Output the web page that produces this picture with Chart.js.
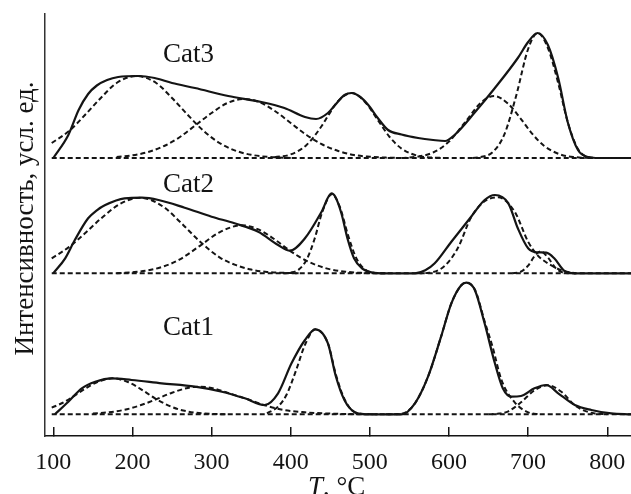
<!DOCTYPE html>
<html><head><meta charset="utf-8">
<script src="https://cdn.jsdelivr.net/npm/chart.js@4.4.1/dist/chart.umd.min.js"></script>
<style>html,body{margin:0;padding:0;background:#fff;}</style>
</head><body>
<canvas id="c" width="631" height="494"></canvas>
<script>
// ---- data (temperature °C, intensity above each curve's own baseline, arb. units) ----
const X_TICKS = [100, 200, 300, 400, 500, 600, 700, 800];
const SERIES_NAMES = ['Cat1', 'Cat2', 'Cat3'];
const BASELINE_OFFSETS = [21.7, 162.7, 278];   // vertical shift of each stacked profile
const BASELINE_RANGE = [98, 830];

const CAT3_TOTAL = [[100,0],[119,23],[132,48],[144,64],[155,72.5],[168,78],[182,81],[207,82],[228,80],[250,75],[279,70],[321,62],[363,56],[392,50],[418,41],[432,39],[447,45],[456,53],[468,63],[477,65],[488,61],[498,53],[510,40],[523,28],[540,23.5],[561,20],[580,18],[595,17],[607,23],[633,46],[658,70],[687,100],[700,116],[712,125],[725,113],[738,80],[750,36],[763,8],[776,1],[790,0],[830,0]];
const CAT3_P1 = [[98,15],[120,27],[140,43],[160,60],[180,75],[205,82],[230,75],[250,60],[270,43],[290,27],[310,15],[330,7.4],[350,3.2],[370,1.2],[400,0]];
const CAT3_P2 = [[180,1],[200,2.7],[220,6],[240,12],[260,21],[280,33],[300,45],[320,55],[342,59],[360,56],[380,47],[400,35],[420,23],[440,13.5],[460,7],[480,3],[500,1.3],[520,0.4],[540,0]];
const CAT3_P3 = [[380,0.7],[400,3.6],[420,13],[440,33],[447,42],[460,57],[477,65],[495,55],[510,38],[525,21],[540,9.4],[560,2.3],[580,0.4],[600,0]];
const CAT3_P4 = [[540,0],[560,1.3],[580,5.5],[600,16.4],[620,35.4],[640,55],[657,62],[675,54],[690,40],[705,24.4],[720,12.3],[740,3.7],[760,0.8],[780,0]];
const CAT3_P5 = [[630,0],[640,0.9],[655,5.8],[670,23.6],[685,62.6],[700,109],[712,125],[725,110],[738,75],[750,36],[763,9],[776,1],[790,0]];

const CAT2_TOTAL = [[100,0],[115,15],[127,33],[144,55],[155,63],[165,68],[190,75],[212,75.6],[233,73.3],[266,65.6],[300,56.6],[329,50],[359,41.6],[384,28.3],[399,22.6],[418,35],[439,61.6],[451.5,80],[456,77],[464,60],[472,34],[480,15],[490,5],[502,1],[520,0],[557,0],[570,3],[582,10],[603,31.6],[628,56.6],[645,73.3],[658,78.3],[675,70],[687,45],[700,25],[711,21],[723,20.6],[733,15],[746,2.3],[759,0],[830,0]];
const CAT2_P1 = [[98,15],[120,26.4],[140,40],[160,54.6],[185,69.7],[210,75.6],[240,66],[260,51.5],[287,30.5],[310,16],[330,8.4],[350,3.7],[370,1.4],[390,0.5],[410,0]];
const CAT2_P2 = [[180,0],[200,1.1],[220,3],[240,7],[260,14],[287,28.5],[310,41],[338,48],[360,43.6],[380,33.7],[400,22],[420,12.5],[445,4.9],[470,1.5],[490,0.4],[510,0]];
const CAT2_P3 = [[390,0],[400,0.7],[410,3.7],[420,13.5],[430,34],[440,61.6],[452,79],[462,66.6],[472,39.3],[482,16.6],[492,5],[505,0.6],[520,0]];
const CAT2_P4 = [[560,0],[575,0.5],[594,7],[611,25],[628,56],[645,72],[662,76],[683,61.6],[700,31.6],[712,18],[721,12],[742,3],[760,0]];
const CAT2_P5 = [[680,0],[690,1.3],[700,7.6],[708,17],[716,22],[725,15.8],[735,5],[745,0.7],[760,0]];

const CAT1_TOTAL = [[102,0],[119,12.6],[136,26],[153,32.6],[174,36],[199,34.3],[237,31],[279,27.6],[313,22.6],[342,16],[367,9.3],[384,21],[401,51],[418,74.3],[431,85],[447,71],[457,38],[468,14],[481,2],[495,0],[540,0],[557,11],[573.5,37.6],[590,77.6],[603,111],[615.7,129.3],[622,131.6],[632.6,124.3],[645,91],[658,51],[668,26],[679,17.6],[691,18.3],[708,26],[723,29.3],[738,21],[759,9.3],[780,4.3],[805,1],[830,0]];
const CAT1_P1 = [[98,6.7],[110,10.8],[125,17.7],[140,25.5],[155,32],[175,36],[195,32],[210,25.5],[228,16.2],[245,9],[260,4.6],[280,1.6],[300,0.4],[320,0]];
const CAT1_P2 = [[150,0.8],[170,2],[190,4.5],[210,9],[228,14.4],[250,21.6],[270,26.4],[285,27.6],[300,26.4],[320,21.6],[342,16],[367,9.1],[390,4.5],[418,2],[440,1],[468,0.3],[490,0]];
const CAT1_P3 = [[370,1],[384,7.7],[395,20],[407,44.5],[418,69.5],[431,85],[447,71],[457,40],[468,15],[481,2],[495,0.3],[510,0]];
const CAT1_P4 = [[520,0],[540,0.5],[557,11],[573.5,37.6],[590,77.6],[603,111],[616,129.3],[622,131.6],[633,124.3],[645,93],[655,67.6],[666.5,34],[683,12],[700,2],[715,0]];
const CAT1_P5 = [[650,0],[661,0.5],[675,3],[691,12],[708,24],[725,29],[742,22.6],[759,9],[770,4],[783,1],[800,0]];

const TOTALS = [CAT1_TOTAL, CAT2_TOTAL, CAT3_TOTAL];
const PEAKS = [
  [CAT1_P1, CAT1_P2, CAT1_P3, CAT1_P4, CAT1_P5],
  [CAT2_P1, CAT2_P2, CAT2_P3, CAT2_P4, CAT2_P5],
  [CAT3_P1, CAT3_P2, CAT3_P3, CAT3_P4, CAT3_P5]
];

// ---- build chart ----
const INK = '#141414';
const toPts = (arr, off) => arr.map(([x, v]) => ({ x: x, y: v + off }));
const datasets = [];
SERIES_NAMES.forEach((name, i) => {
  const off = BASELINE_OFFSETS[i];
  datasets.push({ label: name + ' baseline', data: BASELINE_RANGE.map(x => ({ x: x, y: off })),
    borderColor: INK, borderWidth: 2, borderDash: [5, 3], pointRadius: 0, tension: 0 });
  PEAKS[i].forEach((p, k) => datasets.push({ label: name + ' peak ' + (k + 1), data: toPts(p, off),
    borderColor: INK, borderWidth: 2, borderDash: [5, 3], pointRadius: 0, cubicInterpolationMode: 'monotone' }));
});
SERIES_NAMES.forEach((name, i) => {
  datasets.push({ label: name, data: toPts(TOTALS[i], BASELINE_OFFSETS[i]),
    borderColor: INK, borderWidth: 2.2, pointRadius: 0, cubicInterpolationMode: 'monotone' });
});

const SERIF = '"Liberation Serif", "DejaVu Serif", serif';
const textPlugin = {
  id: 'texts',
  afterDraw(chart) {
    const { ctx, scales: { x, y } } = chart;
    ctx.save();
    ctx.fillStyle = INK;
    // panel names
    ctx.font = '27px ' + SERIF;
    ctx.textAlign = 'left';
    ctx.textBaseline = 'alphabetic';
    const nameLift = [79.3, 81.3, 96];
    SERIES_NAMES.forEach((n, i) => {
      ctx.fillText(n, x.getPixelForValue(238.5), y.getPixelForValue(BASELINE_OFFSETS[i] + nameLift[i]));
    });
    // y title
    ctx.save();
    ctx.translate(32.5, 218.5);
    ctx.rotate(-Math.PI / 2);
    ctx.textAlign = 'center';
    ctx.fillText('Интенсивность, усл. ед.', 0, 0);
    ctx.restore();
    // x title: italic T
    ctx.textAlign = 'left';
    ctx.font = 'italic 27px ' + SERIF;
    const tx = 308, ty = 495;
    ctx.fillText('T', tx, ty);
    const w = ctx.measureText('T').width;
    ctx.font = '27px ' + SERIF;
    ctx.fillText(', °C', tx + w, ty);
    ctx.restore();
  }
};

new Chart(document.getElementById('c'), {
  type: 'line',
  data: { datasets },
  plugins: [textPlugin],
  options: {
    responsive: false,
    animation: false,
    layout: { padding: { left: 45, top: 14, right: 0, bottom: 0 } },
    plugins: { legend: { display: false }, tooltip: { enabled: false } },
    scales: {
      x: {
        type: 'linear', min: 89.5, max: 830,
        afterBuildTicks: s => { s.ticks = X_TICKS.map(v => ({ value: v })); },
        afterFit: s => { s.paddingLeft = 0; s.paddingRight = 0; s.height = 58; },
        grid: { drawOnChartArea: false, drawTicks: true, tickLength: -9, color: INK, lineWidth: 1.5 },
        border: { display: true, color: INK, width: 1.6 },
        ticks: { color: INK, font: { family: SERIF, size: 24 }, padding: 21, maxRotation: 0, autoSkip: false }
      },
      y: {
        type: 'linear', min: 0, max: 422,
        grid: { display: false, drawTicks: false },
        border: { display: true, color: '#333', width: 1.5 },
        ticks: { display: false }
      }
    }
  }
});
</script>
</body></html>
